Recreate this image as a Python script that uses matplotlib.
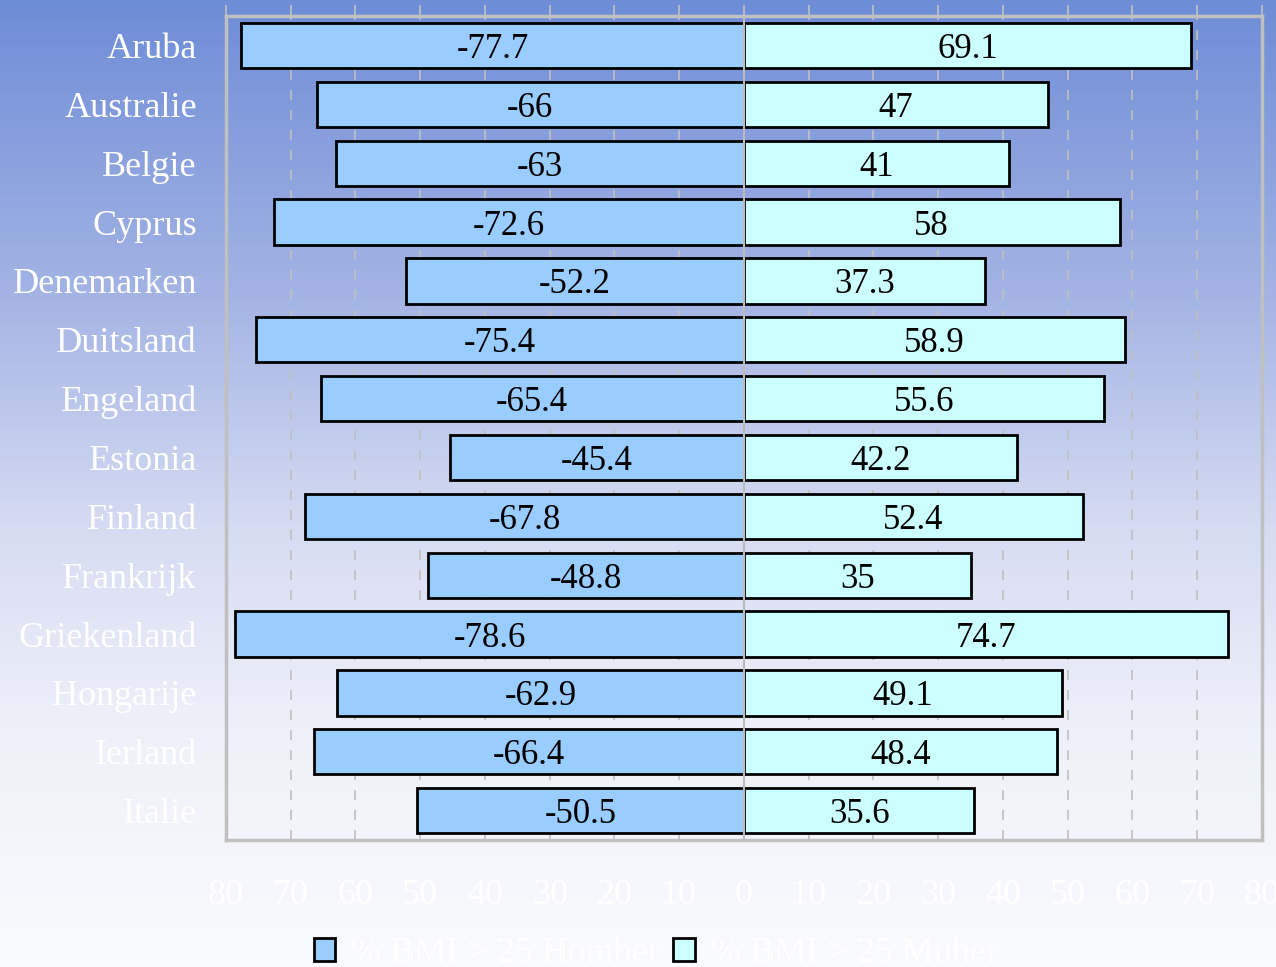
import numpy as np
import matplotlib
matplotlib.use("Agg")
import matplotlib.pyplot as plt
from matplotlib.colors import LinearSegmentedColormap
from matplotlib.ticker import FuncFormatter, MultipleLocator
from matplotlib.patches import Patch

countries = ["Aruba", "Australie", "Belgie", "Cyprus", "Denemarken", "Duitsland",
             "Engeland", "Estonia", "Finland", "Frankrijk", "Griekenland",
             "Hongarije", "Ierland", "Italie"]
homber = [-77.7, -66, -63, -72.6, -52.2, -75.4, -65.4, -45.4, -67.8, -48.8,
          -78.6, -62.9, -66.4, -50.5]
muher = [69.1, 47, 41, 58, 37.3, 58.9, 55.6, 42.2, 52.4, 35, 74.7, 49.1, 48.4, 35.6]
homber_labels = ["-77.7", "-66", "-63", "-72.6", "-52.2", "-75.4", "-65.4", "-45.4",
                 "-67.8", "-48.8", "-78.6", "-62.9", "-66.4", "-50.5"]
muher_labels = ["69.1", "47", "41", "58", "37.3", "58.9", "55.6", "42.2", "52.4",
                "35", "74.7", "49.1", "48.4", "35.6"]
legend_labels = ["% BMI > 25 Homber", "% BMI > 25 Muher"]

plt.rcParams['font.family'] = ['Liberation Serif', 'DejaVu Serif']

fig = plt.figure(figsize=(12.76, 9.67), dpi=100)

# gradient background
bg = fig.add_axes([0, 0, 1, 1], zorder=-10)
cmap = LinearSegmentedColormap.from_list(
    "bg", [(0.0, "#6E8DD7"), (0.3, "#A3B3E4"), (0.55, "#D6DCF2"),
           (0.75, "#EEF0F9"), (1.0, "#FAFBFE")])
grad = np.linspace(0, 1, 256).reshape(-1, 1)
bg.imshow(grad, aspect="auto", cmap=cmap, extent=[0, 1, 1, 0])
bg.set_axis_off()

ax = fig.add_axes([0.1771, 0.1313, 0.8119, 0.8521])
ax.patch.set_alpha(0)

y = np.arange(len(countries))
h = 0.77
ax.barh(y, homber, height=h, color="#99CCFF", edgecolor="black", linewidth=2, zorder=3)
ax.barh(y, muher, height=h, color="#CCFFFF", edgecolor="black", linewidth=2, zorder=3)

for i in range(len(countries)):
    ax.text(homber[i] / 2, y[i], homber_labels[i], ha="center", va="center_baseline",
            fontsize=25, color="black", zorder=5)
    ax.text(muher[i] / 2, y[i], muher_labels[i], ha="center", va="center_baseline",
            fontsize=25, color="black", zorder=5)

ax.axvline(0, color="#BBBBBB", lw=1.5, zorder=4)

ax.set_xlim(-80, 80)
ax.set_ylim(len(countries) - 0.5, -0.5)
ax.set_yticks(y)
ax.set_yticklabels(countries, fontsize=26, color="white")
ax.tick_params(axis="y", length=0, pad=21)

ax.xaxis.set_major_locator(MultipleLocator(10))
ax.xaxis.set_major_formatter(FuncFormatter(lambda v, p: f"{abs(int(round(v)))}"))
ax.tick_params(axis="x", top=True, bottom=False, labeltop=False, labelbottom=True,
               direction="out", length=8, width=1.2, color="#C0C0C0",
               labelsize=26, labelcolor="white", pad=20)
ax.grid(axis="x", color="#C0C0C0", linestyle=(0, (6, 6)), linewidth=1.2, zorder=0)
ax.grid(axis="y", visible=False)

for s in ax.spines.values():
    s.set_color("#C0C0C0")
    s.set_linewidth(2.5)

handles = [Patch(facecolor="#99CCFF", edgecolor="black", linewidth=2),
           Patch(facecolor="#CCFFFF", edgecolor="black", linewidth=2)]
leg = fig.legend(handles, legend_labels, loc="center", bbox_to_anchor=(0.514, 0.014),
                 ncol=2, frameon=False, fontsize=26, handlelength=0.6, handleheight=0.6,
                 handletextpad=0.45, columnspacing=0.35, labelcolor="white",
                 borderpad=0, borderaxespad=0)

fig.savefig("out.png", dpi=100)
